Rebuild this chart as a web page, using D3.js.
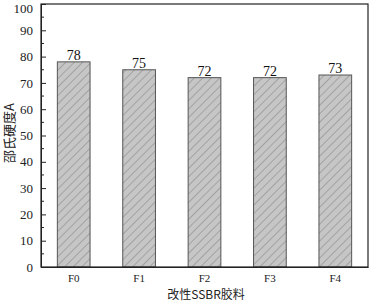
<!DOCTYPE html>
<html><head><meta charset="utf-8">
<script src="https://cdn.jsdelivr.net/npm/d3@7/dist/d3.min.js"></script>
<style>body{margin:0;background:#fff;}svg{display:block;}</style>
</head><body>
<svg id="c" width="370" height="302"></svg>
<script>
const categories = ["F0","F1","F2","F3","F4"];
const values = [78,75,72,72,73];
const yTicks = [0,10,20,30,40,50,60,70,80,90,100];
const xTitle = "改性SSBR胶料";
const yTitle = "邵氏硬度A";

const svg = d3.select("#c");
const m = {l:41, r:2, t:4, b:35};
const W = 370, H = 302;
const x = d3.scaleBand().domain(categories).range([m.l, W-m.r]).paddingInner(0.5).paddingOuter(0.25);
const y = d3.scaleLinear().domain([0,100]).range([H-m.b, m.t]);

const defs = svg.append("defs");
const pat = defs.append("pattern").attr("id","hatch").attr("patternUnits","userSpaceOnUse")
  .attr("width",6).attr("height",6).attr("patternTransform","rotate(45)");
pat.append("rect").attr("width",6).attr("height",6).attr("fill","#c6c6c6");
pat.append("line").attr("x1",0).attr("y1",0).attr("x2",0).attr("y2",6).attr("stroke","#8a8a8a").attr("stroke-width",1.2);

const serif = "'Liberation Serif','DejaVu Serif',serif";
const cjk = "'Noto Sans CJK SC',sans-serif";

svg.selectAll("rect.bar").data(values).join("rect").attr("class","bar")
  .attr("x",(d,i)=>x(categories[i])).attr("y",d=>y(d))
  .attr("width",x.bandwidth()).attr("height",d=>y(0)-y(d))
  .attr("fill","url(#hatch)").attr("stroke","#555").attr("stroke-width",1);

svg.selectAll("text.val").data(values).join("text").attr("class","val")
  .attr("x",(d,i)=>x(categories[i])+x.bandwidth()/2).attr("y",d=>y(d)-2)
  .attr("text-anchor","middle").attr("font-family",serif).attr("font-size",14).attr("fill","#111")
  .text(d=>d);

// frame
svg.append("rect").attr("x",m.l).attr("y",m.t).attr("width",W-m.r-m.l).attr("height",H-m.b-m.t)
  .attr("fill","none").attr("stroke","#222").attr("stroke-width",1.2);

// y axis
const ya = d3.axisLeft(y).tickValues(yTicks).tickSizeInner(-5).tickSizeOuter(0).tickPadding(8);
const g = svg.append("g").attr("transform",`translate(${m.l},0)`).call(ya);
g.select(".domain").attr("stroke","#222");
g.selectAll(".tick line").attr("stroke","#222");
g.selectAll("text").attr("font-family",serif).attr("font-size",13).attr("fill","#222");
g.selectAll(".tick text").filter(d=>d===100).attr("dy","0.62em");
const minor = d3.range(5,100,10);
g.selectAll("line.minor").data(minor).join("line").attr("class","minor")
  .attr("x1",0).attr("x2",3).attr("y1",d=>y(d)).attr("y2",d=>y(d)).attr("stroke","#222");

// x axis
const xa = d3.axisBottom(x).tickSize(0).tickPadding(7);
const gx = svg.append("g").attr("transform",`translate(0,${H-m.b})`).call(xa);
gx.select(".domain").attr("stroke","#222").attr("stroke-width",1.2);
gx.selectAll("text").attr("font-family",serif).attr("font-size",11).attr("fill","#222");

svg.append("text").attr("x",206).attr("y",299).attr("text-anchor","middle")
  .attr("font-family",cjk).attr("font-size",12).attr("fill","#222").text(xTitle);
svg.append("text").attr("transform",`translate(14,133) rotate(-90)`)
  .attr("text-anchor","middle").attr("font-family",cjk).attr("font-size",13).attr("fill","#222").text(yTitle);
</script>
</body></html>
